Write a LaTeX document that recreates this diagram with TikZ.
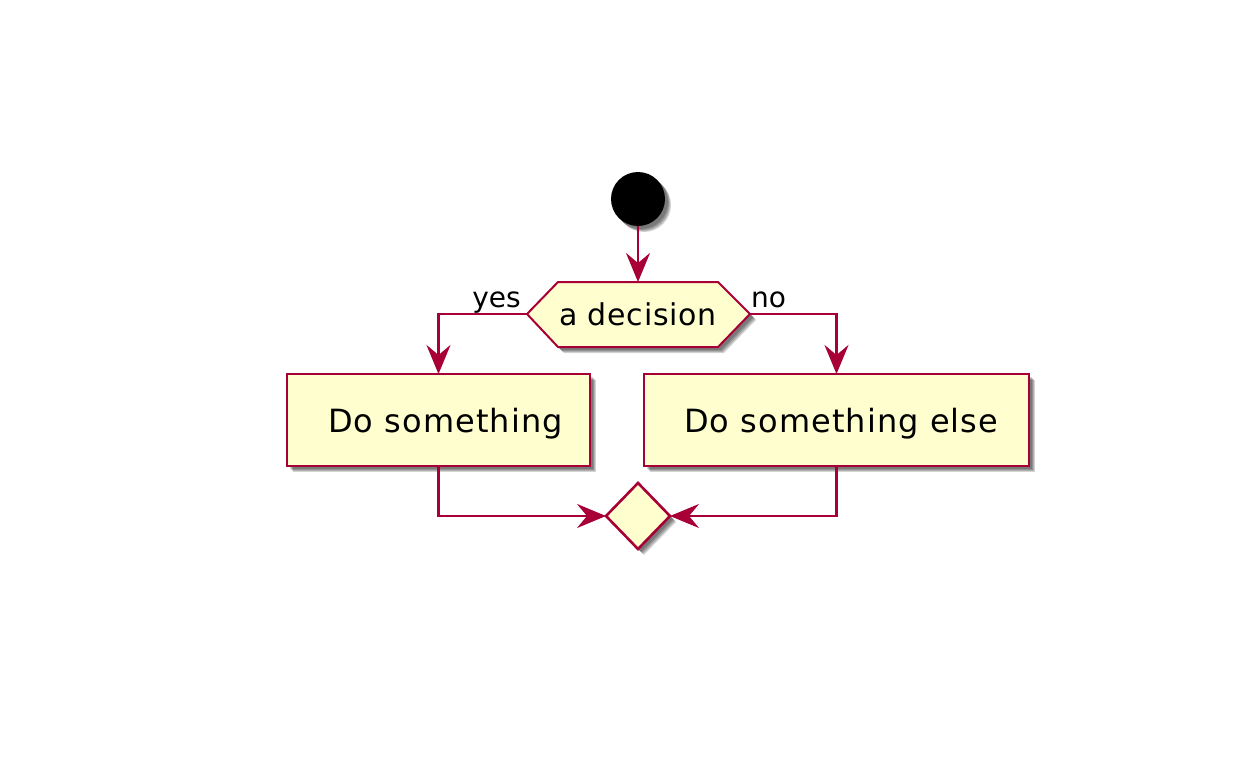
\documentclass[tikz,border=0pt]{standalone}
\usepackage{fontspec}
\setmainfont{DejaVu Sans}
\newfontfamily\boxfont[LetterSpace=3.4]{DejaVu Sans}
\newfontfamily\hexfont[LetterSpace=2.5]{DejaVu Sans}
\usetikzlibrary{arrows.meta,shapes.geometric,calc}
\definecolor{pumlred}{HTML}{A80036}
\definecolor{pumlfill}{HTML}{FEFECE}
\tikzset{
  flow/.style={draw=pumlred, line width=2.6pt, -{Stealth[length=29pt,width=24pt,inset=10pt]}},
  actbox/.style={draw=pumlred, fill=pumlfill, line width=2.8pt},
  shade1/.style={fill=black, fill opacity=0.17, draw=none},
  lbl/.style={font=\fontsize{28}{28}\selectfont, inner sep=0pt},
  txt/.style={font=\boxfont\fontsize{32}{32}\selectfont, inner sep=0pt},
  htxt/.style={font=\hexfont\fontsize{30}{30}\selectfont, inner sep=0pt},
}
\begin{document}
\begin{tikzpicture}[x=1pt,y=-1pt]
\useasboundingbox (0,0) rectangle (1248,768);
% shadows
\foreach \d in {3,4,5,6}{
  \fill[shade1] (638+\d,199+\d) circle (27);
  \fill[shade1] (558+\d,282+\d) -- (718+\d,282+\d) -- (750+\d,314+\d) -- (718+\d,347+\d) -- (558+\d,347+\d) -- (527+\d,314+\d) -- cycle;
  \fill[shade1] (287+\d,374+\d) rectangle (590+\d,466+\d);
  \fill[shade1] (644+\d,374+\d) rectangle (1029+\d,466+\d);
  \fill[shade1] (638+\d,483+\d) -- (670+\d,516+\d) -- (638+\d,549+\d) -- (606+\d,516+\d) -- cycle;
}
% start
\fill[black] (638,199) circle (27);
\coordinate (start) at (638,226);
% decision hexagon
\draw[draw=pumlred, fill=pumlfill, line width=2pt] (558,282) -- (718,282) -- (750,314) -- (718,347) -- (558,347) -- (527,314) -- cycle;
\node[htxt, anchor=base] (dec) at (638,325) {a decision};
\coordinate (dectop) at (638,282);
\coordinate (decL) at (527,314);
\coordinate (decR) at (750,314);
% boxes
\draw[actbox] (287,374) rectangle (590,466);
\node[txt, anchor=base west] (a1) at (328,432) {Do something};
\coordinate (a1top) at (438.5,374);
\coordinate (a1bot) at (438.5,466);
\draw[actbox] (644,374) rectangle (1029,466);
\node[txt, anchor=base west] (a2) at (684,432) {Do something else};
\coordinate (a2top) at (836.5,374);
\coordinate (a2bot) at (836.5,466);
% merge diamond
\draw[draw=pumlred, fill=pumlfill, line width=2.6pt] (638,483) -- (670,516) -- (638,549) -- (606,516) -- cycle;
\coordinate (mL) at (606,516);
\coordinate (mR) at (670,516);
% connectors
\draw[flow] (start) -- (dectop);
\draw[flow] (decL) -| (a1top);
\draw[flow] (decR) -| (a2top);
\draw[flow] (a1bot) |- (mL);
\draw[flow] (a2bot) |- (mR);
% labels
\node[lbl, anchor=base east] (yes) at (521,307) {yes};
\node[lbl, anchor=base west] (no) at (751,307) {no};
\end{tikzpicture}
\end{document}
